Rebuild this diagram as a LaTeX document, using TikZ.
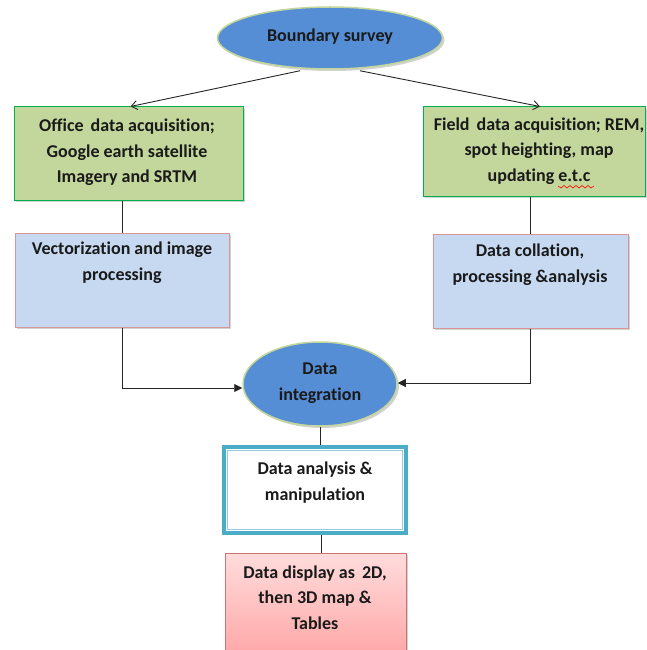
\documentclass[tikz,border=0pt]{standalone}
\usepackage{fontspec}
\setmainfont{Carlito}[Ligatures=NoCommon]
\usetikzlibrary{shapes.geometric,arrows.meta,shadows}
\definecolor{ellblue}{HTML}{558ED5}
\definecolor{ellrim}{HTML}{C3D69B}
\definecolor{greenfill}{HTML}{C3D69B}
\definecolor{greenline}{HTML}{00B050}
\definecolor{bluefill}{HTML}{C6D9F1}
\definecolor{pinkline}{HTML}{D99694}
\definecolor{tealline}{HTML}{4BACC6}
\definecolor{tealthin}{HTML}{92CDDC}
\definecolor{redline}{HTML}{C0504D}
\definecolor{pinktop}{HTML}{FFDCDC}
\definecolor{pinkbot}{HTML}{FF9E9E}
\definecolor{txt}{HTML}{1A1A1A}
\tikzset{
  txtstyle/.style={font=\fontsize{18}{25.5}\selectfont\bfseries, text=txt, align=center, inner sep=0pt},
  shd/.style={drop shadow={shadow xshift=2pt, shadow yshift=-2pt, opacity=0.35, fill=gray}},
  ellnode/.style={ellipse, fill=ellblue, draw=ellrim, line width=1.5pt, inner sep=0pt, shd},
  greenbox/.style={rectangle, fill=greenfill, draw=greenline, line width=1pt, inner sep=0pt, shd},
  bluebox/.style={rectangle, fill=bluefill, draw=pinkline, line width=1pt, inner sep=0pt, shd},
  redbox/.style={rectangle, top color=pinktop, bottom color=pinkbot, draw=redline!80, line width=0.8pt, inner sep=0pt, shd},
  tealbox/.style={rectangle, fill=white, draw=tealline, line width=4.5pt, inner sep=0pt},
  conn/.style={draw=black!85, line width=0.9pt},
  openarrow/.style={conn, -{Straight Barb[length=6pt,width=9pt]}},
  fillarrow/.style={conn, -{Triangle[length=8pt,width=8pt]}}
}
\begin{document}
\begin{tikzpicture}[x=1pt,y=-1pt]
\useasboundingbox (0,0) rectangle (646,650);
\fill[white] (0,0) rectangle (646,650);

% nodes
\node[ellnode, minimum width=225pt, minimum height=62pt] (boundary) at (330,38) {};
\node[txtstyle] (boundaryt) at (330,37) {Boundary survey};

\node[greenbox, minimum width=229pt, minimum height=93pt] (office) at (128.5,153.5) {};
\node[txtstyle] (officet) at (127,152.5) {Office\, data acquisition;\\Google earth satellite\\Imagery and SRTM};

\node[greenbox, minimum width=222pt, minimum height=89pt] (field) at (534,151.5) {};
\node[txtstyle] (fieldt) at (539,151) {Field\, data acquisition; REM,\\spot heighting, map\\updating e.t.c};
\draw[red, line width=0.6pt] (558,186) -- (561,188) -- (564,185.5) -- (567,188) -- (570,185.5) -- (573,188) -- (576,185.5) -- (579,188) -- (582,185.5) -- (585,188) -- (588,185.5) -- (591,188) -- (594,186);

\node[bluebox, minimum width=214pt, minimum height=94pt] (vector) at (122,280) {};
\node[txtstyle] (vectort) at (122,262.5) {Vectorization and image\\processing};

\node[bluebox, minimum width=195pt, minimum height=94pt] (coll) at (530.5,281) {};
\node[txtstyle] (collt) at (530,264.5) {Data collation,\\processing \&analysis};

\node[ellnode, minimum width=154pt, minimum height=84pt] (integ) at (320,384) {};
\node[txtstyle] (integt) at (320,383) {Data\\integration};

\node[tealbox, minimum width=182pt, minimum height=86pt] (analysis) at (315,490) {};
\draw[tealthin, line width=1pt] ([xshift=6pt,yshift=-6pt]analysis.north west) rectangle ([xshift=-6pt,yshift=6pt]analysis.south east);
\node[txtstyle] (analysist) at (315,482.5) {Data analysis \&\\manipulation};

\node[redbox, minimum width=181pt, minimum height=120pt] (display) at (315.5,613) {};
\node[txtstyle] (displayt) at (315,597.5) {Data display as\, 2D,\\then 3D map \&\\Tables};

% connectors
\draw[openarrow] ([xshift=-30pt,yshift=-1pt]boundary.south) -- ([xshift=2pt]office.north);
\draw[openarrow] ([xshift=30pt,yshift=-1pt]boundary.south) -- ([xshift=6pt]field.north);
\draw[conn] (vector.north |- office.south) -- (vector.north);
\draw[conn] (coll.north |- field.south) -- (coll.north);
\draw[fillarrow] (vector.south) |- ([yshift=-4pt]integ.west);
\draw[fillarrow] (coll.south) |- ([yshift=1pt]integ.east);
\draw[conn] (integ.south) -- (integ.south |- analysis.north);
\draw[conn] ([xshift=6pt]analysis.south) -- ([xshift=6pt]analysis.south |- display.north);
\end{tikzpicture}
\end{document}
